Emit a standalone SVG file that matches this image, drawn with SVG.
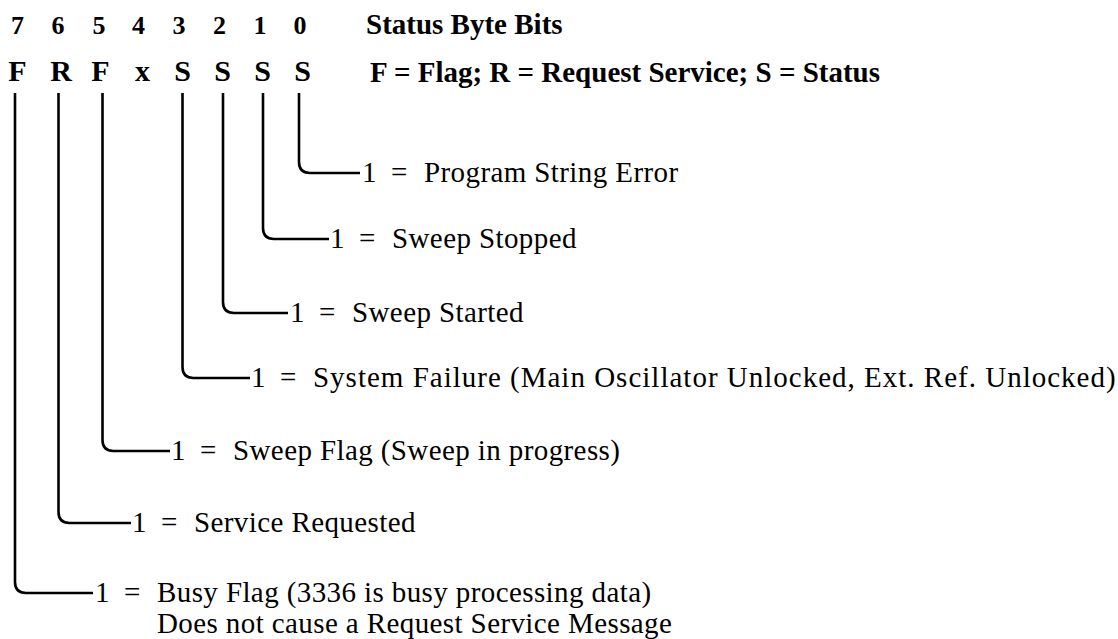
<svg xmlns="http://www.w3.org/2000/svg" width="1118" height="639" viewBox="0 0 1118 639">
<style>
.h{font-family:"Liberation Serif","Times New Roman",serif;font-weight:bold;fill:#000}
.b{font-family:"Liberation Serif","Times New Roman",serif;font-size:29px;fill:#000;letter-spacing:0.4px}
.c{fill:none;stroke:#000;stroke-width:2.6}
</style>
<rect width="1118" height="639" fill="#fff"/>
<g id="header">
<g class="h" font-size="26" text-anchor="middle">
<text x="17.5" y="34">7</text><text x="58" y="34">6</text><text x="99" y="34">5</text><text x="138.5" y="34">4</text>
<text x="179" y="34">3</text><text x="219.5" y="34">2</text><text x="260" y="34">1</text><text x="300" y="34">0</text>
</g>
<g class="h" font-size="30" text-anchor="middle">
<text x="17.5" y="81">F</text><text x="61" y="81">R</text><text x="100.5" y="81">F</text><text x="142.5" y="81">x</text>
<text x="182.5" y="81">S</text><text x="222.5" y="81">S</text><text x="262.5" y="81">S</text><text x="302.5" y="81">S</text>
</g>
<text class="h" font-size="29" x="366" y="34">Status Byte Bits</text>
<text class="h" font-size="29" x="370" y="82">F = Flag; R = Request Service; S = Status</text>
</g>
<g id="connectors">
<path class="c" d="M299,93 V162 Q299,173 310,173 H360"/>
<path class="c" d="M263,93 V228 Q263,239 274,239 H329"/>
<path class="c" d="M223,93 V302 Q223,313 234,313 H288"/>
<path class="c" d="M182.5,93 V367 Q182.5,378 193.5,378 H250"/>
<path class="c" d="M102.5,93 V440 Q102.5,451 113.5,451 H170"/>
<path class="c" d="M58.5,93 V512 Q58.5,523 69.5,523 H131"/>
<path class="c" d="M15,93 V582 Q15,593 26,593 H93"/>
</g>
<g id="bit0"><text class="b" y="182"><tspan x="362">1</tspan><tspan x="391">=</tspan><tspan x="424">Program String Error</tspan></text></g>
<g id="bit1"><text class="b" y="248"><tspan x="330">1</tspan><tspan x="359">=</tspan><tspan x="392">Sweep Stopped</tspan></text></g>
<g id="bit2"><text class="b" y="322"><tspan x="290">1</tspan><tspan x="319">=</tspan><tspan x="352">Sweep Started</tspan></text></g>
<g id="bit3"><text class="b" y="387"><tspan x="251">1</tspan><tspan x="280">=</tspan><tspan x="313" textLength="803" lengthAdjust="spacing">System Failure (Main Oscillator Unlocked, Ext. Ref. Unlocked)</tspan></text></g>
<g id="bit5"><text class="b" y="460"><tspan x="171">1</tspan><tspan x="200">=</tspan><tspan x="233">Sweep Flag (Sweep in progress)</tspan></text></g>
<g id="bit6"><text class="b" y="532"><tspan x="132">1</tspan><tspan x="161">=</tspan><tspan x="194">Service Requested</tspan></text></g>
<g id="bit7"><text class="b" y="602"><tspan x="95">1</tspan><tspan x="124">=</tspan><tspan x="157">Busy Flag (3336 is busy processing data)</tspan></text>
<text class="b" x="157" y="633">Does not cause a Request Service Message</text></g>
</svg>
